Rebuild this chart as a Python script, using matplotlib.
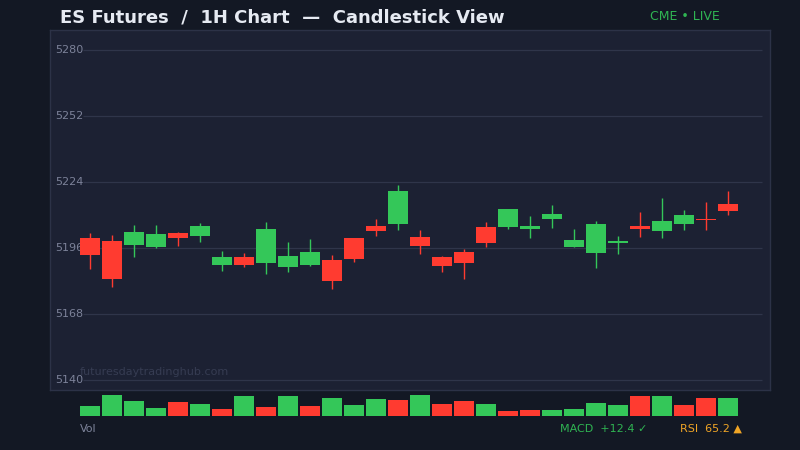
import matplotlib
matplotlib.use("Agg")
import matplotlib.pyplot as plt
import numpy as np

# --- Data ---
opens = [5200.2, 5199.0, 5197.4, 5196.5, 5202.5, 5201.2, 5188.9, 5192.2, 5189.8, 5188.1,
         5188.9, 5190.9, 5200.2, 5205.3, 5206.3, 5200.7, 5192.2, 5194.3, 5204.9, 5205.0,
         5204.1, 5208.3, 5196.5, 5194.0, 5198.2, 5205.5, 5203.3, 5206.3, 5208.2, 5214.8]
highs = [5202.5, 5201.5, 5205.8, 5205.8, 5203.0, 5206.7, 5194.8, 5193.7, 5207.2, 5198.7,
         5199.8, 5193.0, 5200.4, 5208.2, 5222.7, 5203.5, 5192.6, 5195.6, 5207.0, 5212.5,
         5209.6, 5214.4, 5204.1, 5207.5, 5201.1, 5211.3, 5217.2, 5212.1, 5215.5, 5220.2]
lows = [5187.2, 5179.6, 5192.3, 5196.1, 5196.8, 5198.7, 5186.4, 5188.1, 5185.1, 5185.9,
        5188.4, 5178.5, 5190.2, 5201.2, 5203.8, 5193.3, 5185.7, 5182.7, 5196.5, 5203.9,
        5200.2, 5204.5, 5196.5, 5187.5, 5193.4, 5200.8, 5200.4, 5203.6, 5203.6, 5210.0]
closes = [5193.2, 5183.0, 5202.8, 5201.9, 5200.4, 5205.3, 5192.2, 5188.9, 5204.1, 5192.6,
          5194.3, 5182.1, 5191.3, 5203.2, 5220.2, 5197.0, 5188.5, 5189.8, 5198.2, 5212.5,
          5205.3, 5210.4, 5199.4, 5206.2, 5199.0, 5204.1, 5207.5, 5210.0, 5208.0, 5211.7]

# volume in thousands of contracts; volume colours are their own series
volume = [9.7, 20.7, 14.7, 7.7, 13.7, 11.7, 6.7, 19.7, 8.7, 19.7,
          9.7, 17.7, 10.7, 16.7, 15.7, 20.7, 11.7, 14.7, 11.7, 4.7,
          5.7, 5.7, 6.7, 12.7, 10.7, 19.7, 19.7, 10.7, 17.7, 17.7]
volume_up = [1, 1, 1, 1, 0, 1, 0, 1, 0, 1,
             0, 1, 1, 1, 0, 1, 0, 0, 1, 0,
             0, 1, 1, 1, 1, 0, 1, 0, 0, 1]

price_ticks = [5140, 5168, 5196, 5224, 5252, 5280]

title = "ES Futures  /  1H Chart  \u2014  Candlestick View"

# --- Colours ---
FIG_BG = "#131824"
PANEL_BG = "#1c2133"
PANEL_EDGE = "#2c3247"
GRID = "#2f354a"
LABEL = "#7c8299"
UP = "#34c759"
DOWN = "#ff3b30"

W, H = 800, 450


def px_rect(x0, y0, x1, y1):
    """Pixel box (top-left origin) -> figure fraction rect."""
    return [x0 / W, 1 - y1 / H, (x1 - x0) / W, (y1 - y0) / H]


fig = plt.figure(figsize=(8, 4.5), dpi=100, facecolor=FIG_BG)

# --- Price panel ---
ax = fig.add_axes(px_rect(50, 30, 770, 390), facecolor=PANEL_BG)
x = np.arange(len(opens))
ax.set_xlim(-1.818, 30.909)
ax.set_ylim(5135.8, 5288.5)
ax.set_xticks([])
ax.set_yticks([])
for s in ax.spines.values():
    s.set_color(PANEL_EDGE)
    s.set_linewidth(1)

ax.hlines(price_ticks, -0.32, 30.55, color=GRID, lw=0.9, zorder=1)
for t in price_ticks:
    ax.text(-1.59, t, str(t), color=LABEL, fontsize=8, ha="left", va="center", zorder=2)

o = np.array(opens)
c = np.array(closes)
colors = [UP if cc >= oo else DOWN for oo, cc in zip(o, c)]
ax.vlines(x, lows, highs, color=colors, lw=1, zorder=3)
body = np.maximum(np.abs(c - o), 0.45)
ax.bar(x, body, bottom=np.minimum(o, c), width=0.95, color=colors, zorder=4)

ax.text(-0.45, 5143.5, "futuresdaytradinghub.com", color="#363c52", fontsize=8,
        ha="left", va="center", zorder=2)

# --- Volume strip ---
vax = fig.add_axes(px_rect(50, 390, 770, 416))
vax.set_facecolor("none")
vax.set_xlim(-1.818, 30.909)
vax.set_ylim(0, 26)
vax.axis("off")
vax.bar(x, volume, width=0.95, color=[UP if u else DOWN for u in volume_up])

# --- Texts ---
fig.text(60 / W, 1 - 18 / H, title, color="#e6eaf2", fontsize=13, fontweight="bold",
         ha="left", va="center")
fig.text(650 / W, 1 - 17 / H, "CME \u2022 LIVE", color="#2fb452", fontsize=9,
         ha="left", va="center")
fig.text(80 / W, 1 - 429 / H, "Vol", color=LABEL, fontsize=8, ha="left", va="center")
fig.text(560 / W, 1 - 429 / H, "MACD  +12.4 \u2713", color="#2fb452", fontsize=8,
         ha="left", va="center")
fig.text(680 / W, 1 - 429 / H, "RSI  65.2 \u25b2", color="#f0a526", fontsize=8,
         ha="left", va="center")

plt.savefig("out.png", dpi=100, facecolor=FIG_BG)
plt.close(fig)
